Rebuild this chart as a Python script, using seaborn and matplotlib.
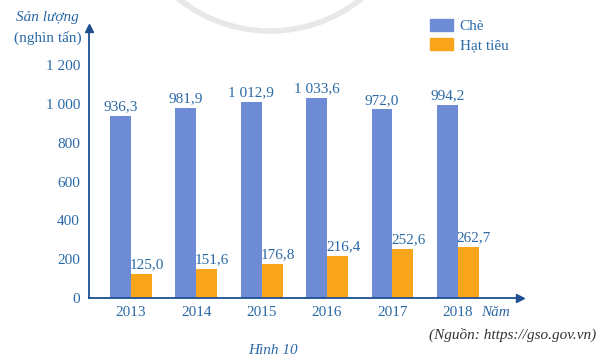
import numpy as np
import pandas as pd
import matplotlib.pyplot as plt
import matplotlib.patches as mpatches
import seaborn as sns

### donnees
nam = ["2013", "2014", "2015", "2016", "2017", "2018"]
che = [936.3, 981.9, 1012.9, 1033.6, 972.0, 994.2]
hat_tieu = [125.0, 151.6, 176.8, 216.4, 252.6, 262.7]
y_ticks = [0, 200, 400, 600, 800, 1000, 1200]

mau_che = "#6d8cd5"
mau_tieu = "#f8a51b"
mau_chu = "#2b69a6"
mau_truc = "#1d4f91"


def so_vn(v, le=1):
    s = f"{v:,.{le}f}"
    return s.replace(",", " ").replace(".", ",")


sns.set_style("white")
plt.rcParams['font.family'] = ['Liberation Serif', 'DejaVu Serif']

df = pd.DataFrame({
    "Năm": nam * 2,
    "Sản lượng": che + hat_tieu,
    "Loại": ["Chè"] * len(nam) + ["Hạt tiêu"] * len(nam),
})

fig = plt.figure(figsize=(6, 3.63), dpi=100)
ax = fig.add_axes([89 / 600, 65 / 363, (520 - 89) / 600, (298 - 28) / 363])

sns.barplot(data=df, x="Năm", y="Sản lượng", hue="Loại",
            palette=[mau_che, mau_tieu], width=0.64, saturation=1,
            linewidth=0, ax=ax, legend=False)

ax.set_xlim(-0.64, 5.95)
ax.set_ylim(0, 1392)
ax.set_xlabel("")
ax.set_ylabel("")
ax.set_yticks(y_ticks)
ax.set_yticklabels([so_vn(t, 0) for t in y_ticks])
ax.tick_params(axis="y", direction="inout", length=7, width=1,
               color=mau_truc, labelsize=11, labelcolor=mau_chu, pad=3)
ax.tick_params(axis="x", length=0, labelsize=11, labelcolor=mau_chu, pad=6)

for side in ["top", "right"]:
    ax.spines[side].set_visible(False)
for side in ["left", "bottom"]:
    ax.spines[side].set_color(mau_truc)
    ax.spines[side].set_linewidth(1.3)

# fleches des axes
ax.plot(0, 1, marker="^", color=mau_truc, markersize=6,
        transform=ax.transAxes, clip_on=False)
ax.plot(1, 0, marker=">", color=mau_truc, markersize=6,
        transform=ax.transAxes, clip_on=False)

# etiquettes des valeurs
for i, cont in enumerate(ax.containers):
    for bar, v in zip(cont, che if i == 0 else hat_tieu):
        dx = 0 if i == 0 else 4
        ax.annotate(so_vn(v), (bar.get_x() + bar.get_width() / 2, bar.get_height()),
                    xytext=(dx, 2), textcoords="offset points",
                    ha="center", va="bottom", fontsize=11, color=mau_chu)

leg_che = mpatches.Patch(color=mau_che, label="Chè")
leg_tieu = mpatches.Patch(color=mau_tieu, label="Hạt tiêu")
fig.legend(handles=[leg_che, leg_tieu], loc="upper left",
           bbox_to_anchor=(430 / 600, 1 - 19 / 363), frameon=False,
           fontsize=11, labelcolor=mau_chu, handlelength=1.5,
           handleheight=0.85, handletextpad=0.45, labelspacing=0.3,
           borderpad=0, borderaxespad=0)

fig.text(47 / 600, 1 - 17 / 363, "Sản lượng", style="italic", fontsize=11,
         color=mau_chu, ha="center", va="center")
fig.text(48 / 600, 1 - 38 / 363, "(nghìn tấn)", fontsize=11,
         color=mau_chu, ha="center", va="center")
fig.text(495 / 600, 1 - 312 / 363, "Năm", style="italic", fontsize=11,
         color=mau_chu, ha="center", va="center")
fig.text(596 / 600, 1 - 335 / 363, "(Nguồn: https://gso.gov.vn)", style="italic",
         fontsize=11, color="#333333", ha="right", va="center")
fig.text(273 / 600, 1 - 350 / 363, "Hình 10", style="italic", fontsize=11,
         color=mau_chu, ha="center", va="center")

# arc gris decoratif en haut
arc = mpatches.Ellipse((270 / 600, (363 + 115) / 363), 2 * 146 / 600, 2 * 146 / 363,
                       transform=fig.transFigure, fill=False,
                       edgecolor="#e8e8e8", linewidth=4)
fig.patches.append(arc)

plt.savefig("out.png", dpi=100)
plt.close()
